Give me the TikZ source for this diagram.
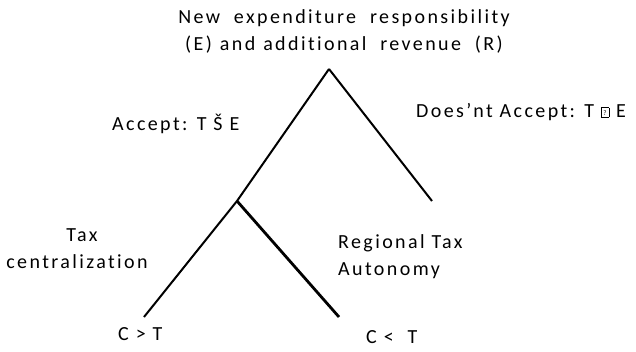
\documentclass[tikz,border=0pt]{standalone}
\usepackage{fontspec}
\setmainfont{Carlito}[LetterSpace=12,Ligatures=NoCommon]
\newcommand{\qbox}{\raisebox{0.5pt}{\fboxsep=0pt\fboxrule=0.6pt\fbox{\makebox[7pt]{\rule{0pt}{9pt}\raisebox{1.5pt}{\fontsize{7}{7}\selectfont ?}}}}}
\begin{document}
\begin{tikzpicture}[x=1pt,y=-1pt,
  lbl/.style={inner sep=0pt,anchor=west,font=\fontsize{20}{27}\selectfont,align=left},
  branch/.style={line width=2pt},
  thick branch/.style={line width=2.8pt}]
\useasboundingbox (0,0) rectangle (636,351);
\coordinate (apex) at (329,69);
\coordinate (junc) at (237,201);
\coordinate (rend) at (432,201);
\coordinate (lend) at (144,317);
\coordinate (mend) at (339,317);
\draw[branch] (apex) -- (rend);
\draw[branch] (apex) -- (junc) -- (lend);
\draw[thick branch] (junc) -- (mend);
\node[lbl,anchor=center,align=center] (title) at (344,31) {New\ \ expenditure\ \ responsibility\\(E)\hspace{8pt}and\hspace{8pt}additional\ \ revenue\ \ (R)};
\node[lbl] (acc) at (112,124) {Accept: T Š E};
\node[lbl] (nacc) at (416,112) {Does’nt Accept: T \qbox\ E};
\node[lbl,anchor=center,align=center] (tax) at (77,249) {\hspace*{10pt}Tax\\centralization};
\node[lbl] (reg) at (338,257) {Regional Tax\\Autonomy};
\node[lbl] (cgt) at (118,334) {C > T};
\node[lbl] (clt) at (366,337) {C <\ \ T};
\end{tikzpicture}
\end{document}
